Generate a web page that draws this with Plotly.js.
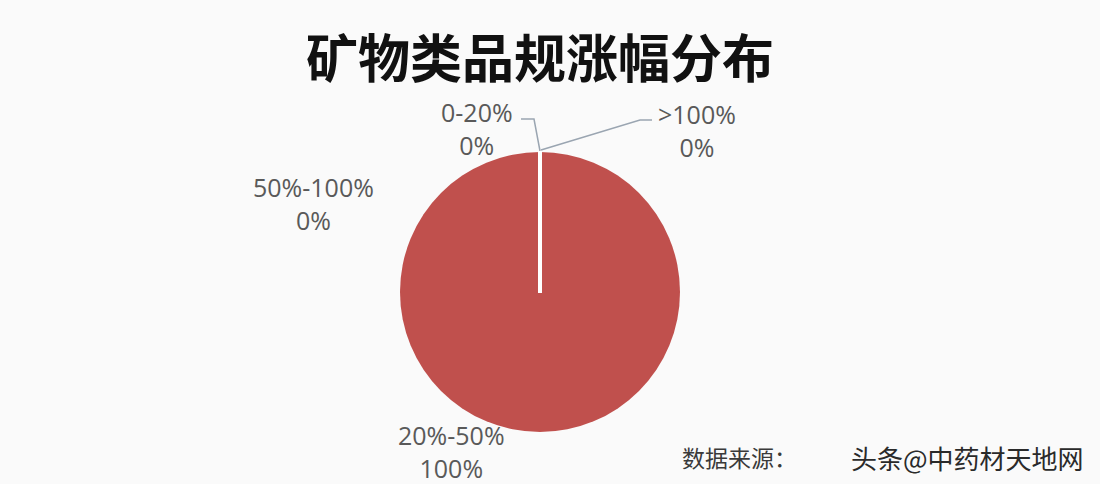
<!DOCTYPE html>
<html><head><meta charset="utf-8">
<script src="https://cdn.plot.ly/plotly-3.0.1.min.js"></script>
<style>html,body{margin:0;padding:0;background:#fafafa;}#chart{width:1100px;height:484px;}</style>
</head><body><div id="chart"></div>
<script>
var categories = ["0-20%", "20%-50%", "50%-100%", ">100%"];
var shares = [0, 100, 0, 0];
var shareLabels = ["0%", "100%", "0%", "0%"];

var W = 1100, H = 484;
function px(x){return x/W;} function py(y){return 1-y/H;}

var pieCats = [], pieVals = [];
categories.forEach(function(c,i){ if(shares[i]>0){pieCats.push(c);pieVals.push(shares[i]);} });

var trace = {
  type: "pie",
  labels: pieCats,
  values: pieVals,
  sort: false,
  direction: "clockwise",
  rotation: 0,
  textinfo: "none",
  hoverinfo: "label+percent",
  marker: {colors: ["#C0504D"], line: {color: "#C0504D", width: 0}},
  domain: {x: [px(400), px(680)], y: [py(432), py(152)]},
  showlegend: false
};

var labelPos = {
  "0-20%": [477, 129],
  ">100%": [697, 130],
  "50%-100%": [313, 204],
  "20%-50%": [451, 451]
};
var annotations = categories.map(function(c,i){
  var p = labelPos[c];
  return {xref:"paper", yref:"paper", x: px(p[0]), y: py(p[1]), text: c + "<br>" + shareLabels[i],
    showarrow:false, xanchor:"center", yanchor:"middle",
    font:{family:"Open Sans, Noto Sans, sans-serif", size:25, color:"#595959"}};
});
annotations.push({xref:"paper", yref:"paper", x: px(540), y: py(55), text:"<b>矿物类品规涨幅分布</b>",
  showarrow:false, xanchor:"center", yanchor:"middle",
  font:{family:"Noto Sans CJK SC", size:52, color:"#111111"}});
annotations.push({xref:"paper", yref:"paper", x: px(680), y: py(457), text:"数据来源：",
  showarrow:false, xanchor:"left", yanchor:"middle",
  font:{family:"Noto Sans CJK SC", size:23, color:"#3a3a3a"}});
annotations.push({xref:"paper", yref:"paper", x: px(1086), y: py(457), text:"头条@中药材天地网",
  showarrow:false, xanchor:"right", yanchor:"middle",
  font:{family:"Noto Sans CJK SC", size:26, color:"#2a2a2a"}});

var lc = "#9aa5b1";
var shapes = [
  {type:"path", xref:"paper", yref:"paper",
   path:"M "+px(521)+","+py(119)+" L "+px(534)+","+py(119)+" L "+px(540)+","+py(151),
   line:{color:lc, width:1.5}},
  {type:"path", xref:"paper", yref:"paper",
   path:"M "+px(652)+","+py(120)+" L "+px(640)+","+py(120)+" L "+px(541)+","+py(150),
   line:{color:lc, width:1.5}},
  {type:"line", xref:"paper", yref:"paper", x0:px(540), y0:py(151), x1:px(540), y1:py(293),
   line:{color:"#ffffff", width:4}, layer:"above"}
];

var layout = {
  width: W, height: H,
  margin: {l:0, r:0, t:0, b:0},
  paper_bgcolor: "#fafafa",
  plot_bgcolor: "#fafafa",
  annotations: annotations,
  shapes: shapes
};
Plotly.newPlot("chart", [trace], layout, {displayModeBar:false, staticPlot:true});
</script></body></html>
